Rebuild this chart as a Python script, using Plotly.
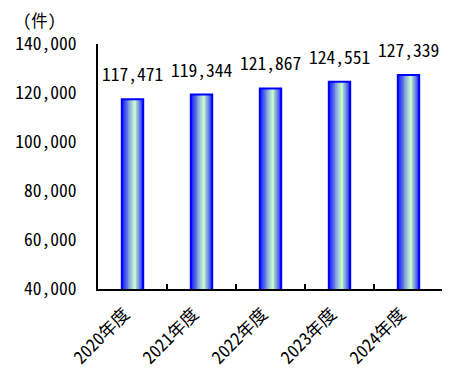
import plotly.graph_objects as go

categories = ["2020年度", "2021年度", "2022年度", "2023年度", "2024年度"]
values = [117471, 119344, 121867, 124551, 127339]
y_ticks = [40000, 60000, 80000, 100000, 120000, 140000]
unit_label = "(件)"

FONT = "Noto Sans Mono CJK JP, Noto Sans CJK JP"
FS = 17.5
BAR_W = 0.31
N_SLICES = 24

def grad_color(t):
    # blue edges, pale green highlight a bit right of centre
    peak = 0.62
    if t <= peak:
        s = t / peak
        s = s ** 0.9
    else:
        s = (1 - t) / (1 - peak)
        s = s ** 0.7
    b = (0, 0, 255)
    g = (204, 255, 204)
    c = [round(b[k] + (g[k] - b[k]) * s) for k in range(3)]
    return f"rgb({c[0]},{c[1]},{c[2]})"

fig = go.Figure()
sw = BAR_W / N_SLICES
for i in range(N_SLICES):
    t = (i + 0.5) / N_SLICES
    fig.add_trace(go.Bar(
        x=categories, y=values,
        width=sw * 1.15, offset=-BAR_W / 2 + i * sw,
        marker=dict(color=grad_color(t), line=dict(width=0)),
        showlegend=False, hoverinfo="skip",
    ))

fig.add_trace(go.Bar(
    x=categories, y=values, width=BAR_W,
    marker=dict(color="rgba(0,0,0,0)", line=dict(color="#0000ff", width=2)),
    showlegend=False, hoverinfo="skip",
))

annotations = [dict(
    x=c, y=v, xref="x", yref="y", text=f"{v:,}", showarrow=False,
    xanchor="center", yanchor="bottom", yshift=11,
    font=dict(family=FONT, size=FS, color="black"),
) for c, v in zip(categories, values)]

annotations.append(dict(
    text=unit_label, xref="paper", yref="paper", x=-0.224, y=1.0,
    xanchor="left", yanchor="bottom", yshift=10, showarrow=False,
    font=dict(family=FONT, size=FS - 1),
))

# page body adds an 8px margin; compensate so the chart lands where the reference is
fig.update_layout(
    width=442, height=367,
    margin=dict(l=83, r=7, t=36, b=86),
    barmode="overlay",
    plot_bgcolor="white", paper_bgcolor="white",
    font=dict(family=FONT, size=FS, color="black"),
    xaxis=dict(
        type="category", showline=True, linecolor="black", linewidth=2,
        ticks="inside", tickson="boundaries", ticklen=5, tickwidth=2, tickcolor="black",
        tickangle=-45, showgrid=False, tickfont=dict(family=FONT, size=FS),
        ticklabelshift=-8, ticklabelstandoff=6,
    ),
    yaxis=dict(
        range=[40000, 140000], tickvals=y_ticks,
        ticktext=[f"{v:,}" for v in y_ticks],
        showline=True, linecolor="black", linewidth=2, ticks="",
        ticklabelstandoff=16,
        showgrid=False, zeroline=False, tickfont=dict(family=FONT, size=FS),
    ),
    annotations=annotations,
)

fig.write_html("out.html")
